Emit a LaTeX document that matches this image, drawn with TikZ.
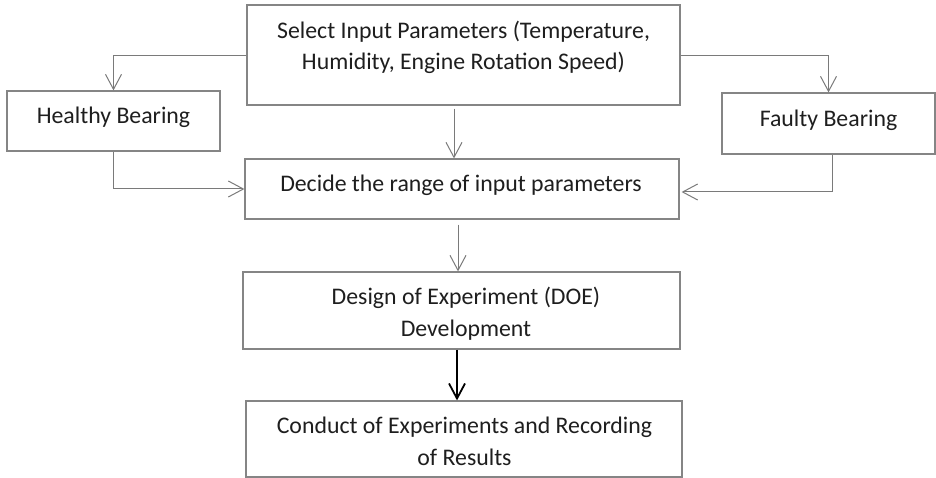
\documentclass[tikz,border=0pt]{standalone}
\usepackage{fontspec}
\setmainfont{Carlito}
\usetikzlibrary{arrows.meta,calc}
\definecolor{boxline}{HTML}{858585}
\definecolor{conline}{HTML}{7A7A7A}
\definecolor{ink}{HTML}{1E1E1E}
% strut fixing the height of the first text line, so that a node's
% north anchor lies a known distance above its first baseline
\newcommand\firstln{\rule{0pt}{19pt}}
\tikzset{
  stepbox/.style={draw=boxline, line width=1.2pt, fill=white, inner sep=0pt},
  steptext/.style={anchor=north, text=ink, align=center, inner sep=0pt,
    font=\fontsize{23.8}{31.5}\selectfont},
  arr/.style={draw=conline, line width=1pt,
    -{Straight Barb[length=15pt,width=16pt,line width=1pt]}},
  darr/.style={draw=black, line width=1.8pt,
    -{Straight Barb[length=15pt,width=16pt,line width=1.8pt]}},
}
\begin{document}
\begin{tikzpicture}[x=1pt,y=-1pt]
  \useasboundingbox (0,0) rectangle (936,478);

  % process boxes
  \node[stepbox, minimum width=433pt, minimum height=100pt] (sel) at (463.5,55) {};
  \node[stepbox, minimum width=213pt, minimum height=60pt] (healthy) at (113.5,121) {};
  \node[stepbox, minimum width=213pt, minimum height=61pt] (faulty) at (828.5,123.5) {};
  \node[stepbox, minimum width=434pt, minimum height=60pt] (range) at (462,189) {};
  \node[stepbox, minimum width=437pt, minimum height=77pt] (doe) at (461.5,310.5) {};
  \node[stepbox, minimum width=436pt, minimum height=76pt] (exp) at (464,439) {};

  % box texts (first baseline 19pt below each anchor)
  \node[steptext] (sel-t) at (463.5,19.3)
    {\firstln Select Input Parameters (Temperature,\\Humidity, Engine Rotation Speed)};
  \node[steptext] (healthy-t) at (113.5,104.3) {\firstln Healthy Bearing};
  \node[steptext] (faulty-t) at (828.5,107) {\firstln Faulty Bearing};
  \node[steptext] (range-t) at (461,172) {\firstln Decide the range of input parameters};
  \node[steptext] (doe-t) at (466,285.3)
    {\firstln Design of Experiment (DOE)\\Development};
  \node[steptext] (exp-t) at (464.5,414.3)
    {\firstln Conduct of Experiments and Recording\\of Results};

  % reference columns for the vertical connectors
  \coordinate (xa) at (454,0);
  \coordinate (xb) at (458,0);
  \coordinate (xc) at (457,0);
  \coordinate (xf) at (832,0);
  \coordinate (yt) at (0,56);
  \coordinate (yh) at (0,189);
  \coordinate (yf) at (0,192);

  % connectors
  \draw[arr] (sel.west |- yt) -| (healthy.north);
  \draw[arr] (sel.east |- yt) -| (faulty.north);
  \draw[arr, shorten <=3pt] (sel.south -| xa) -- (range.north -| xa);
  \draw[arr] (healthy.south) |- (range.west |- yh);
  \draw[arr] (faulty.south -| xf) |- ($(range.east |- yf)+(2,0)$);
  \draw[arr, shorten <=5pt] (range.south -| xb) -- (doe.north -| xb);
  \draw[darr] (doe.south -| xc) -- (exp.north -| xc);
\end{tikzpicture}
\end{document}
